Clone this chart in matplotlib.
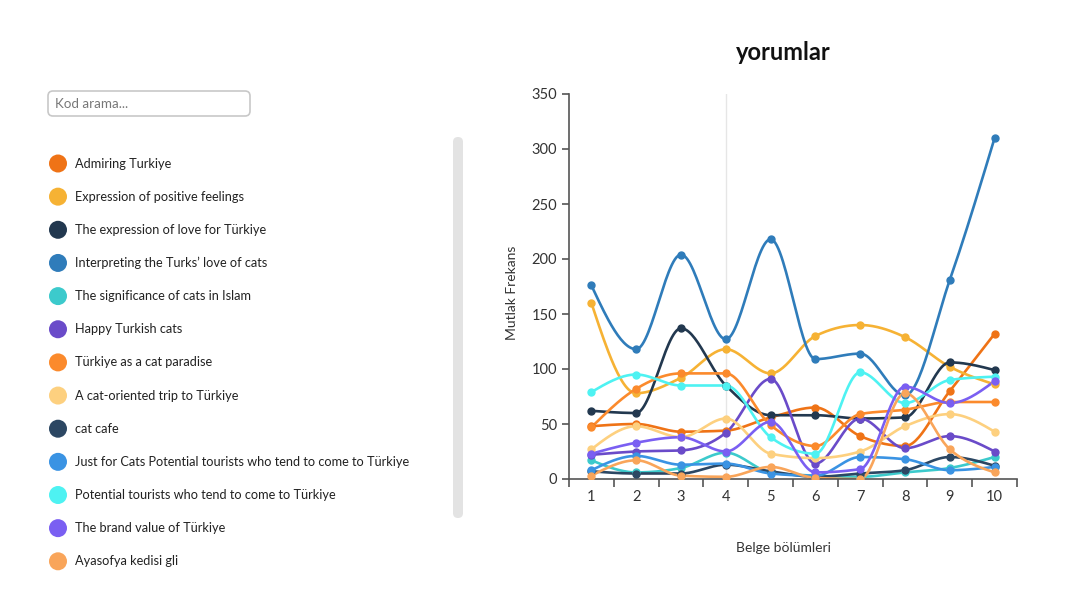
import numpy as np
import matplotlib
matplotlib.use("Agg")
import matplotlib.pyplot as plt
from matplotlib.patches import FancyBboxPatch, Circle

plt.rcParams['font.family'] = ['Lato', 'DejaVu Sans']

# ---------------- data ----------------
sections = [1, 2, 3, 4, 5, 6, 7, 8, 9, 10]
codes = [
    "Admiring Turkiye",
    "Expression of positive feelings",
    "The expression of love for Türkiye",
    "Interpreting the Turks\u2019 love of cats",
    "The significance of cats in Islam",
    "Happy Turkish cats",
    "Türkiye as a cat paradise",
    "A cat-oriented trip to Türkiye",
    "cat cafe",
    "Just for Cats Potential tourists who tend to come to Türkiye",
    "Potential tourists who tend to come to Türkiye",
    "The brand value of Türkiye",
    "Ayasofya kedisi gli",
]
colors = ["#ef7316", "#f6b234", "#22384f", "#2f7cba", "#3ccacc", "#6a4bc9",
          "#fb8a2c", "#fdd07f", "#2c4763", "#3a93e3", "#4ef2f2", "#7a5ff2",
          "#f9a55a"]

admiring = [48, 50, 43, 44, 56, 65, 39, 30, 80, 132]
positive = [160, 78, 92, 118, 96, 130, 140, 129, 102, 86]
love = [62, 60, 137, 85, 58, 58, 55, 56, 106, 99]
interpreting = [176, 118, 204, 127, 218, 109, 114, 76, 181, 310]
islam = [17, 6, 10, 24, 6, 3, 2, 6, 10, 20]
happy = [22, 25, 26, 42, 91, 14, 55, 28, 39, 25]
paradise = [47, 82, 96, 96, 49, 30, 59, 63, 70, 70]
trip = [27, 48, 38, 55, 23, 19, 25, 48, 59, 43]
cafe = [7, 5, 5, 13, 7, 2, 5, 8, 20, 12]
justcats = [8, 21, 13, 14, 5, 3, 20, 18, 8, 11]
tourists = [79, 95, 85, 85, 38, 23, 97, 69, 90, 93]
brand = [23, 33, 38, 25, 52, 6, 9, 84, 69, 89]
ayasofya = [3, 17, 3, 2, 11, 1, 0, 78, 27, 6]

series = [admiring, positive, love, interpreting, islam, happy, paradise,
          trip, cafe, justcats, tourists, brand, ayasofya]

yticks = [0, 50, 100, 150, 200, 250, 300, 350]
title = "yorumlar"
xlabel = "Belge bölümleri"
ylabel = "Mutlak Frekans"
search_placeholder = "Kod arama..."


def monotone(xs, ys, n=30):
    """Monotone cubic curve (d3 curveMonotoneX style) through the points."""
    x = np.asarray(xs, float)
    y = np.asarray(ys, float)
    k = len(x)
    h = np.diff(x)
    s = np.diff(y) / h
    m = np.zeros(k)
    for i in range(1, k - 1):
        p = (s[i - 1] * h[i] + s[i] * h[i - 1]) / (h[i - 1] + h[i])
        m[i] = (np.sign(s[i - 1]) + np.sign(s[i])) * min(
            abs(s[i - 1]), abs(s[i]), 0.5 * abs(p))
    m[0] = (3 * s[0] - m[1]) / 2
    m[-1] = (3 * s[-1] - m[-2]) / 2
    t = np.linspace(0, 1, n)
    h00 = 2 * t**3 - 3 * t**2 + 1
    h10 = t**3 - 2 * t**2 + t
    h01 = -2 * t**3 + 3 * t**2
    h11 = t**3 - t**2
    ox, oy = [], []
    for i in range(k - 1):
        ox.append(x[i] + t * h[i])
        oy.append(h00 * y[i] + h10 * h[i] * m[i] + h01 * y[i + 1]
                  + h11 * h[i] * m[i + 1])
    return np.concatenate(ox), np.concatenate(oy)


W, H = 1073, 590
fig = plt.figure(figsize=(W / 100, H / 100), dpi=100)
fig.patch.set_facecolor("white")

# ---------------- chart ----------------
L, R, T, B = 569, 1017, 94, 479
ax = fig.add_axes([L / W, 1 - B / H, (R - L) / W, (B - T) / H])
ax.set_xlim(0.5, 10.5)
ax.set_ylim(0, 350)
ax.axvline(4, color="#e6e6e6", lw=1, zorder=0)

for vals, c in zip(series, colors):
    sx, sy = monotone(sections, vals)
    ax.plot(sx, sy, color=c, lw=1.9, solid_capstyle="round", zorder=2)
    ax.plot(sections, vals, "o", color=c, ms=5, mec=c, mfc=c, zorder=3)

for s in ["top", "right"]:
    ax.spines[s].set_visible(False)
for s in ["left", "bottom"]:
    ax.spines[s].set_color("#555555")
    ax.spines[s].set_linewidth(1.2)

ax.set_yticks(yticks)
ax.set_xticks(np.arange(0.5, 11, 1))
ax.set_xticklabels([])
ax.set_xticks(sections, minor=True)
ax.set_xticklabels([str(s) for s in sections], minor=True)
ax.tick_params(axis="x", which="major", length=6, width=1.2, color="#555555")
ax.tick_params(axis="x", which="minor", length=0, pad=8, labelsize=10.5,
               labelcolor="#333333")
ax.tick_params(axis="y", length=5, width=1.2, color="#555555", labelsize=10.5,
               labelcolor="#333333")

fig.text(783 / W, 1 - 53 / H, title, ha="center", va="center",
         fontsize=17, fontweight="bold", color="#111111")
fig.text(783 / W, 1 - 548 / H, xlabel, ha="center", va="center",
         fontsize=10, color="#333333")
fig.text(512 / W, 1 - 293 / H, ylabel, ha="center", va="center",
         fontsize=10, color="#333333", rotation=90)

# ---------------- left panel ----------------
ov = fig.add_axes([0, 0, 1, 1], zorder=-1)
ov.set_xlim(0, W)
ov.set_ylim(H, 0)
ov.axis("off")

ov.add_patch(FancyBboxPatch((48, 91), 202, 25,
                            boxstyle="round,pad=0,rounding_size=5",
                            fc="white", ec="#c8c8c8", lw=1.2))
ov.text(55, 103.5, search_placeholder, va="center", ha="left",
        fontsize=9.6, color="#777777")

ov.add_patch(FancyBboxPatch((453, 137), 10, 381,
                            boxstyle="round,pad=0,rounding_size=5",
                            fc="#e3e3e3", ec="none"))

y0, dy = 163.5, 33.15
for i, (name, c) in enumerate(zip(codes, colors)):
    y = y0 + i * dy
    ov.add_patch(Circle((58, y), 9, fc=c, ec="none"))
    ov.text(75, y, name, va="center", ha="left", fontsize=9.2,
            color="#222222")

fig.savefig("out.png", dpi=100, facecolor="white")
